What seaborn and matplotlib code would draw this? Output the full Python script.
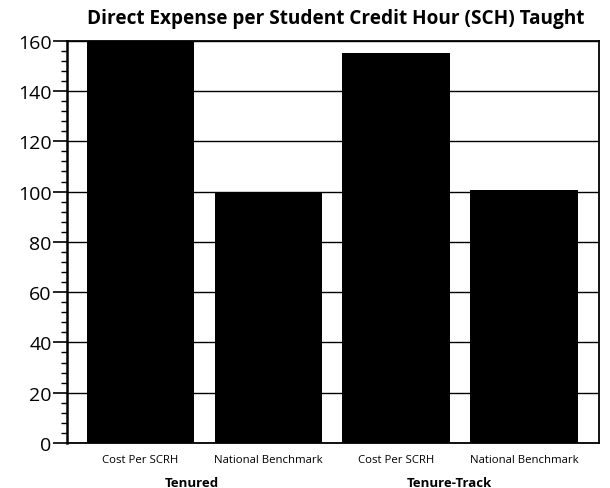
import matplotlib
matplotlib.use("Agg")
import matplotlib.pyplot as plt
from matplotlib.ticker import MultipleLocator
import seaborn as sns
import pandas as pd

groups = ["Tenured", "Tenured", "Tenure-Track", "Tenure-Track"]
measures = ["Cost Per SCRH", "National Benchmark", "Cost Per SCRH", "National Benchmark"]
values = [160, 100, 155, 100.5]
group_labels = ["Tenured", "Tenure-Track"]

df = pd.DataFrame({"group": groups, "measure": measures, "value": values})
df["key"] = df["group"] + " | " + df["measure"]

sns.set_theme(style="white")
plt.rcParams["font.family"] = ["Open Sans", "DejaVu Sans"]

fig = plt.figure(figsize=(6.1, 4.89), dpi=100)
ax = fig.add_axes([0.1098, 0.092, 0.872, 0.8227])

sns.barplot(data=df, x="key", y="value", order=list(df["key"]), color="black",
            width=0.84, saturation=1, ax=ax, zorder=2, edgecolor="black", linewidth=0)

ax.set_xlim(-0.575, 3.587)
ax.set_ylim(0, 160)
ax.yaxis.set_major_locator(MultipleLocator(20))
ax.yaxis.set_minor_locator(MultipleLocator(4))
ax.grid(axis="y", which="major", color="black", linewidth=1.0, zorder=0)
ax.set_axisbelow(True)

for side in ["left", "right", "top", "bottom"]:
    ax.spines[side].set_visible(True)
    ax.spines[side].set_color("black")
    ax.spines[side].set_linewidth(1.3)
ax.spines["left"].set_linewidth(1.8)

ax.tick_params(axis="y", which="major", direction="out", length=10, width=1.2,
               color="black", labelsize=14, pad=1, left=True, labelcolor="black")
ax.tick_params(axis="y", which="minor", direction="out", length=4, width=1.0,
               color="black", left=True)
ax.tick_params(axis="x", which="major", length=0, pad=8, labelsize=8.2,
               labelcolor="black")

ax.set_xticks(range(len(measures)))
ax.set_xticklabels(measures)
ax.set_xlabel("")
ax.set_ylabel("")

# group captions sit below the measure labels, shifted right of the first bar
label_x = [0.40, 2.42]
for x, g in zip(label_x, group_labels):
    ax.text(x, -0.097, g, transform=ax.get_xaxis_transform(),
            ha="center", va="center", fontsize=9.5, fontweight="bold", color="black")

fig.text(0.551, 0.962, "Direct Expense per Student Credit Hour (SCH) Taught",
         ha="center", va="center", fontsize=13.7, fontweight="bold", color="black")

fig.savefig("out.png", dpi=100, facecolor="white")
